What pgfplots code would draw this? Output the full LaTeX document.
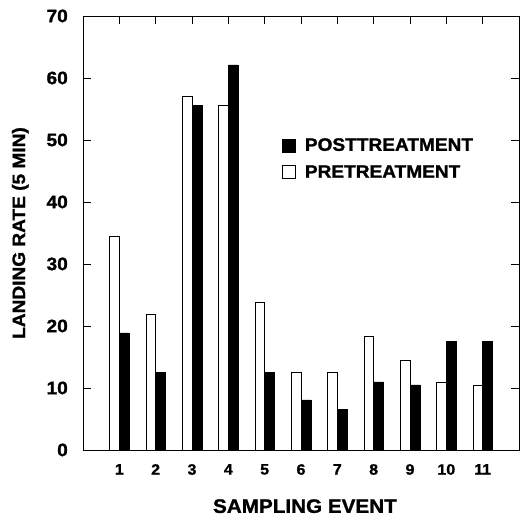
\documentclass[border=0pt]{standalone}
\usepackage{pgfplots}
\pgfplotsset{compat=1.18}
\usepackage{fontspec}
\setmainfont{Liberation Sans}[FakeStretch=1.06, BoldFeatures={FakeBold=1.3}]

\begin{document}
\begin{tikzpicture}
\begin{axis}[
    scale only axis,
    width=436bp, height=434bp,
    xmin=0, xmax=12,
    ymin=0, ymax=70,
    xtick={1,...,11},
    ytick={0,10,...,70},
    major tick length=8bp,
    tick style={black, line width=0.6pt},
    axis line style={line width=0.7pt},
    /pgf/number format/assume math mode=true,
    xticklabel style={font=\fontsize{15bp}{15bp}\selectfont\bfseries, inner sep=0pt, yshift=-14bp},
    yticklabel style={font=\fontsize{18bp}{18bp}\selectfont\bfseries, inner sep=0pt, xshift=-15bp},
    xlabel={SAMPLING EVENT},
    ylabel={LANDING RATE (5 MIN)},
    xlabel style={font=\fontsize{19.5bp}{19.5bp}\selectfont\bfseries, at={(axis description cs:0.509,-0.113)}, anchor=north, inner sep=0pt},
    ylabel style={font=\fontsize{18bp}{18bp}\selectfont\bfseries, at={(axis description cs:-0.133,0.5)}, anchor=base, inner sep=0pt},
    reverse legend,
    legend style={draw=none, fill=none, at={(axis description cs:0.45,0.728)}, anchor=north west,
        font=\fontsize{18bp}{18bp}\selectfont\bfseries, row sep=9bp,
        nodes={inner sep=2bp}, cells={anchor=west}},
    legend image code/.code={\draw[#1] (0bp,-6.5bp) rectangle (13bp,6.5bp); \path (20bp,0bp);},
]
% pretreatment (white)
\addplot[ybar, bar width=0.27, bar shift=-0.135, fill=white, draw=black, line width=0.5pt]
  coordinates {(1,34.4) (2,21.9) (3,57.1) (4,55.6) (5,23.9) (6,12.5) (7,12.5) (8,18.4) (9,14.5) (10,11.0) (11,10.5)};
\addlegendentry{PRETREATMENT}
% posttreatment (black)
\addplot[ybar, bar width=0.27, bar shift=0.135, fill=black, draw=black, line width=0.5pt]
  coordinates {(1,18.9) (2,12.5) (3,55.6) (4,62.1) (5,12.5) (6,8.1) (7,6.6) (8,11.0) (9,10.5) (10,17.5) (11,17.5)};
\addlegendentry{POSTTREATMENT}
\end{axis}
\pgfresetboundingbox
\path[use as bounding box] ([shift={(-83bp,-67bp)}]current axis.south west) rectangle ([shift={(9bp,16bp)}]current axis.north east);
\end{tikzpicture}
\end{document}
